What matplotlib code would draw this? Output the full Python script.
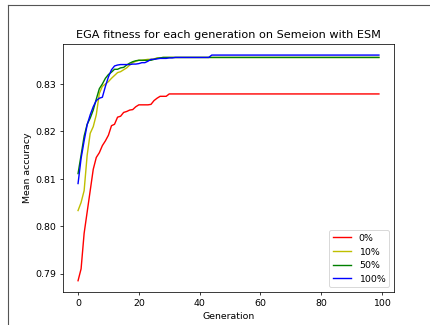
import matplotlib
matplotlib.use('Agg')
import matplotlib.pyplot as plt
from matplotlib.lines import Line2D
import numpy as np

generations = np.arange(100)

# mean accuracy of the best population per generation (read per generation up to the plateau)
acc_0 = [0.7885, 0.7910, 0.7985, 0.8030, 0.8075, 0.8120, 0.8145, 0.8155, 0.8170, 0.8180,
         0.8192, 0.8212, 0.8215, 0.8230, 0.8232, 0.8240, 0.8242, 0.8245, 0.8246, 0.8252,
         0.8256, 0.8256, 0.8256, 0.8256, 0.8257, 0.8265, 0.8270, 0.8274, 0.8274, 0.8274,
         0.8279]
acc_10 = [0.8033, 0.8050, 0.8075, 0.8150, 0.8196, 0.8210, 0.8235, 0.8280, 0.8295, 0.8300,
          0.8305, 0.8312, 0.8318, 0.8324, 0.8326, 0.8330, 0.8334, 0.8340, 0.8345, 0.8348,
          0.8350, 0.8350, 0.8351, 0.8352, 0.8352, 0.8353, 0.8355, 0.8355, 0.8356]
acc_50 = [0.8111, 0.8150, 0.8190, 0.8215, 0.8228, 0.8245, 0.8268, 0.8290, 0.8300, 0.8312,
          0.8320, 0.8325, 0.8331, 0.8331, 0.8334, 0.8335, 0.8340, 0.8344, 0.8347, 0.8349,
          0.8350, 0.8350, 0.8350, 0.8350, 0.8350, 0.8352, 0.8354, 0.8355, 0.8356]
acc_100 = [0.8090, 0.8143, 0.8180, 0.8214, 0.8235, 0.8252, 0.8265, 0.8270, 0.8272, 0.8295,
           0.8315, 0.8330, 0.8338, 0.8340, 0.8341, 0.8341, 0.8341, 0.8341, 0.8342, 0.8342,
           0.8343, 0.8345, 0.8345, 0.8348, 0.8352, 0.8352, 0.8353, 0.8354, 0.8354, 0.8354,
           0.8355, 0.8355, 0.8356, 0.8356, 0.8356, 0.8356, 0.8356, 0.8356, 0.8356, 0.8356,
           0.8356, 0.8356, 0.8356, 0.8356, 0.8361]


def full_run(vals):
    # the run keeps its best value once it has converged
    return np.array(vals + [vals[-1]] * (len(generations) - len(vals)))


series = [(acc_0, 'r', '0%'), (acc_10, 'y', '10%'), (acc_50, 'g', '50%'), (acc_100, 'b', '100%')]

fig = plt.figure(figsize=(6.4, 4.84), dpi=67.2)
ax = fig.add_axes([0.1465, 0.1015, 0.916 - 0.1465, 0.8646 - 0.1015])

for vals, col, lab in series:
    ax.plot(generations, full_run(vals), col, label=lab)

ax.set_title('EGA fitness for each generation on Semeion with ESM')
ax.set_xlabel('Generation')
ax.set_ylabel('Mean accuracy')
ax.set_yticks([0.79, 0.80, 0.81, 0.82, 0.83])
ax.legend(loc='lower right')

# window frame around the figure
fig.add_artist(Line2D([8 / 430, 8 / 430], [0, 1 - 5 / 325], transform=fig.transFigure,
                      color='#555555', lw=1.2))
fig.add_artist(Line2D([8 / 430, 1], [1 - 5 / 325, 1 - 5 / 325], transform=fig.transFigure,
                      color='#555555', lw=1.2))

fig.savefig('out.png', dpi=67.2)
